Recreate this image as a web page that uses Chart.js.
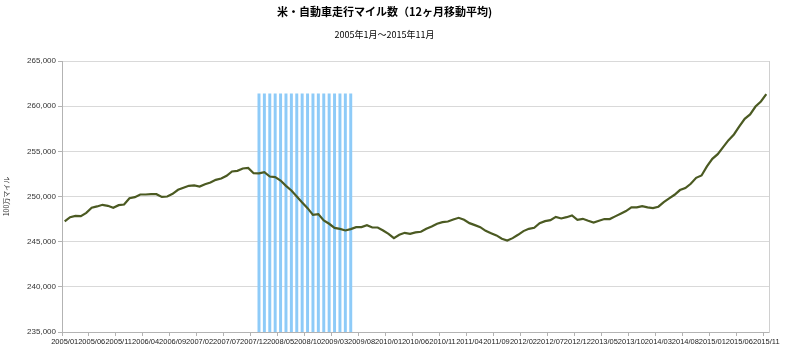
<!DOCTYPE html>
<html>
<head>
<meta charset="utf-8">
<script src="https://cdn.jsdelivr.net/npm/chart.js@4/dist/chart.umd.min.js"></script>
<style>
html,body{margin:0;padding:0;background:#fff;}
#wrap{width:800px;height:358px;position:relative;}
</style>
</head>
<body>
<div id="wrap"><canvas id="c"></canvas></div>
<script>
const titleText = '米・自動車走行マイル数（12ヶ月移動平均)';
const subtitleText = '2005年1月～2015年11月';
const yAxisTitle = '100万マイル';

// months 2005/01 .. 2015/11
const months = [];
for (let y = 2005; y <= 2015; y++) {
  for (let m = 1; m <= 12; m++) {
    if (y === 2015 && m > 11) break;
    months.push(y + '/' + String(m).padStart(2, '0'));
  }
}

// 12-month moving average of vehicle miles travelled (million miles)
const vmt = [
  247235, 247714, 247860, 247825, 248193, 248750, 248900, 249080, 248970, 248750,
  249040, 249115, 249815, 249930, 250220, 250220, 250260, 250260, 249960, 250000,
  250295, 250740, 250960, 251180, 251220, 251100, 251360, 251550, 251840, 251990,
  252290, 252770, 252840, 253100, 253170, 252580, 252560, 252690, 252210, 252140,
  251770, 251180, 250660, 250000, 249340, 248710, 247970, 248050, 247350, 246980,
  246530, 246420, 246240, 246390, 246610, 246610, 246830, 246570, 246570, 246240,
  245870, 245390, 245760, 245980, 245870, 246020, 246100, 246420, 246680, 246980,
  247160, 247235, 247460, 247640, 247420, 247050, 246830, 246610, 246200, 245940,
  245690, 245320, 245130, 245390, 245760, 246170, 246420, 246530, 247050, 247270,
  247380, 247750, 247570, 247710, 247900, 247420, 247530, 247310, 247120, 247310,
  247510, 247500, 247800, 248090, 248390, 248790, 248790, 248940, 248790, 248720,
  248870, 249380, 249790, 250190, 250710, 250930, 251410, 252070, 252330, 253330,
  254170, 254690, 255460, 256240, 256870, 257750, 258600, 259080, 259960, 260520,
  261330
];

// recession shading: 2008/01 .. 2009/06
const recessionStart = '2008/01';
const recessionEnd = '2009/06';
const recessionLevel = 261400;
const recession = months.map(function (m) {
  return (m >= recessionStart && m <= recessionEnd) ? recessionLevel : null;
});

const yMin = 235000, yMax = 265000, yStep = 5000;

new Chart(document.getElementById('c'), {
  data: {
    labels: months,
    datasets: [
      {
        type: 'line',
        data: vmt,
        borderColor: '#4b5a22',
        borderWidth: 2.2,
        pointRadius: 0,
        tension: 0,
        order: 0
      },
      {
        type: 'bar',
        data: recession,
        backgroundColor: '#8ecbf8',
        borderWidth: 0,
        barPercentage: 0.55,
        categoryPercentage: 1,
        order: 1
      }
    ]
  },
  options: {
    responsive: true,
    maintainAspectRatio: false,
    animation: false,
    layout: {padding: {left: 0, right: 31, top: 0, bottom: 10}},
    plugins: {
      legend: {display: false},
      tooltip: {enabled: false},
      title: {
        display: true,
        text: titleText,
        color: '#000',
        font: {family: "'Noto Sans CJK JP',sans-serif", size: 11, weight: 'bold'},
        padding: {top: 5, bottom: 11}
      },
      subtitle: {
        display: true,
        text: subtitleText,
        color: '#000',
        font: {family: "'Noto Sans CJK JP',sans-serif", size: 9},
        padding: {top: 0, bottom: 21}
      }
    },
    scales: {
      x: {
        type: 'category',
        offset: true,
        grid: {
          display: true,
          offset: true,
          drawOnChartArea: false,
          tickLength: 4,
          color: function (ctx) { return ctx.index % 5 === 0 ? '#b3b3b3' : 'rgba(0,0,0,0)'; }
        },
        border: {display: true, color: '#b3b3b3'},
        ticks: {
          autoSkip: false,
          maxRotation: 0,
          minRotation: 0,
          padding: 1,
          color: '#222',
          font: {family: "'Liberation Sans',Arial,sans-serif", size: 7.5},
          callback: function (v, i) { return i % 5 === 0 ? months[i] : ''; }
        },
        afterFit: function (s) { s.height = 16; }
      },
      y: {
        min: yMin,
        max: yMax,
        grid: {color: '#d9d9d9', tickLength: 4, tickColor: '#b3b3b3'},
        border: {display: true, color: '#b3b3b3'},
        ticks: {
          stepSize: yStep,
          padding: 2,
          color: '#333',
          font: {family: "'Liberation Sans',Arial,sans-serif", size: 8},
          callback: function (v) { return v.toLocaleString('en-US'); }
        },
        title: {
          display: true,
          text: yAxisTitle,
          color: '#333',
          font: {family: "'Noto Sans CJK JP',sans-serif", size: 7},
          padding: {top: 2, bottom: 0}
        },
        afterFit: function (s) { s.width = 62; }
      },
      y2: {
        position: 'right',
        min: yMin,
        max: yMax,
        grid: {display: false, drawTicks: false},
        border: {display: true, color: '#d0d0d0'},
        ticks: {display: false},
        afterFit: function (s) { s.width = 0; }
      }
    }
  }
});
</script>
</body>
</html>
